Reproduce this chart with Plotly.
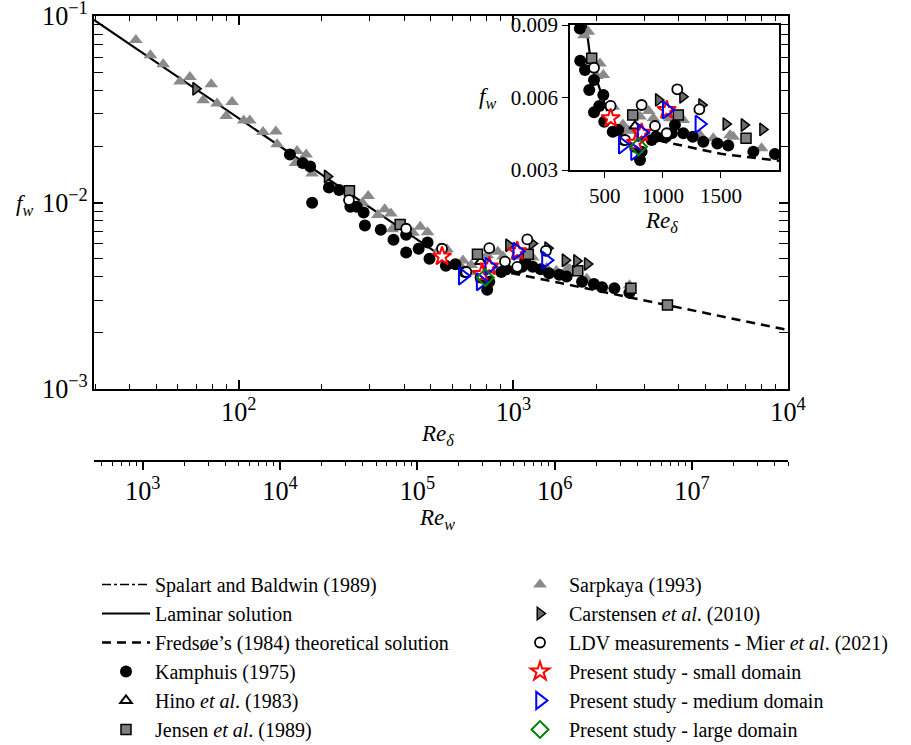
import plotly.graph_objects as go
import math

# ---------------- data ----------------
spalart_re = [600, 700, 800]
spalart_f = [0.0046, 0.0043, 0.0041]

laminar_re = [29.7, 100, 200, 380, 520]
laminar_f = [0.0953, 0.0283, 0.01415, 0.00745, 0.00544]

fredsoe_re = [600, 800, 1000, 1500, 2000, 3000, 5000, 7000, 10000]
fredsoe_f = [0.00487, 0.00446, 0.00418, 0.00367, 0.00338, 0.00299, 0.00256, 0.00231, 0.00207]

kamphuis_re = [153.6, 171, 182, 185, 213, 232, 255, 269, 285, 288, 329, 366, 407, 407, 452, 487,
               495, 568, 615, 665, 760, 817, 803, 903, 941, 1027, 1076, 1104, 1176, 1257, 1348,
               1469, 1563, 1779, 1965, 2103, 2333, 2645]
kamphuis_f = [0.0181, 0.0163, 0.0156, 0.00998, 0.01205, 0.01166, 0.0095, 0.0095, 0.00885, 0.00752,
              0.00714, 0.00631, 0.00672, 0.00539, 0.00565, 0.0061, 0.0050, 0.00458, 0.00466, 0.00424,
              0.00396, 0.00376, 0.00341, 0.00424, 0.00438, 0.00438, 0.00452, 0.00486, 0.00452,
              0.00438, 0.00417, 0.0041, 0.00401, 0.00376, 0.00366, 0.00351, 0.00347, 0.00328]

hino_re = [760]
hino_f = [0.00482]

jensen_re = [253, 387, 740, 1133, 1716, 2680, 3640]
jensen_f = [0.01156, 0.00762, 0.00528, 0.00528, 0.00431, 0.00347, 0.00282]

sarpkaya_re = [42.2, 47.7, 53.1, 61.1, 66.4, 74.2, 79.4, 83.4, 90.0, 94.6, 104.3, 109.7, 122.6,
               136.5, 138, 161, 163, 176, 185, 282, 296, 321, 340, 358, 362, 431, 458, 487, 539,
               573, 645, 655, 688, 702, 803, 878, 917, 1061, 1176, 1320, 1434, 1578, 1606, 1850, 2650]
sarpkaya_f = [0.0743, 0.0615, 0.0551, 0.0445, 0.0471, 0.0353, 0.0431, 0.0340, 0.0291, 0.0346,
              0.0275, 0.0275, 0.0239, 0.0240, 0.0205, 0.0163, 0.0189, 0.0181, 0.0143, 0.00998,
              0.01084, 0.00858, 0.0092, 0.00872, 0.00718, 0.00689, 0.00741, 0.00693, 0.00567,
              0.00562, 0.00452, 0.00488, 0.00424, 0.00462, 0.00521, 0.00544, 0.00514, 0.00514,
              0.00507, 0.00445, 0.00431, 0.00444, 0.00438, 0.0039, 0.0036]

carstensen_re = [69.7, 210, 961, 1170, 1334, 1543, 1699, 1859]
carstensen_f = [0.0407, 0.0138, 0.0059, 0.00603, 0.00569, 0.0049, 0.00486, 0.00468]

mier_re = [252, 407, 550, 674, 817, 932, 1033, 1124, 1314]
mier_f = [0.0103, 0.00723, 0.00565, 0.00424, 0.00569, 0.00482, 0.00452, 0.00634, 0.00551]

small_re = [550, 768, 817, 1033]
small_f = [0.00514, 0.00413, 0.00454, 0.00548]

medium_re = [654, 760, 817, 1033, 1314]
medium_f = [0.00403, 0.00376, 0.00454, 0.00548, 0.0049]

large_re = [790]
large_f = [0.00396]

main_xrange = [1.473, 4.0]          # log10 Re_delta
main_yrange = [-3, -1]              # log10 f_w
inset_xrange = [200, 2000]
inset_yrange = [0.003, 0.009]
inset_xticks = [500, 1000, 1500]
inset_yticks = [0.003, 0.006, 0.009]

FONT = "Liberation Serif"
W, H = 911, 745

def px_x(p):
    return p / W

def px_y(p):
    return 1 - p / H

fig = go.Figure()

series = [
    ("Spalart and Baldwin (1989)", spalart_re, spalart_f,
     dict(mode="lines", line=dict(color="black", width=1.5, dash="dashdot")), "legend"),
    ("Laminar solution", laminar_re, laminar_f,
     dict(mode="lines", line=dict(color="black", width=2.2)), "legend"),
    ("Fredsøe’s (1984) theoretical solution", fredsoe_re, fredsoe_f,
     dict(mode="lines", line=dict(color="black", width=2.5, dash="9px,6px")), "legend"),
    ("Sarpkaya (1993)", sarpkaya_re, sarpkaya_f,
     dict(mode="markers", marker=dict(symbol="triangle-up", size=12, color="#8a8a8a",
                                      line=dict(width=0))), "legend2"),
    ("Kamphuis (1975)", kamphuis_re, kamphuis_f,
     dict(mode="markers", marker=dict(symbol="circle", size=12, color="black",
                                      line=dict(width=0))), "legend"),
    ("Hino <i>et al</i>. (1983)", hino_re, hino_f,
     dict(mode="markers", marker=dict(symbol="triangle-up-open", size=10, color="black",
                                      line=dict(width=2, color="black"))), "legend"),
    ("Jensen <i>et al</i>. (1989)", jensen_re, jensen_f,
     dict(mode="markers", marker=dict(symbol="square", size=10, color="#808080",
                                      line=dict(width=1.5, color="black"))), "legend"),
    ("Carstensen <i>et al</i>. (2010)", carstensen_re, carstensen_f,
     dict(mode="markers", marker=dict(symbol="triangle-right", size=11, color="#6a6a6a",
                                      line=dict(width=1.5, color="black"))), "legend2"),
    ("LDV measurements - Mier <i>et al</i>. (2021)", mier_re, mier_f,
     dict(mode="markers", marker=dict(symbol="circle", size=10, color="white",
                                      line=dict(width=1.8, color="black"))), "legend2"),
    ("Present study - small domain", small_re, small_f,
     dict(mode="markers", marker=dict(symbol="star", size=14, color="white",
                                      line=dict(width=2, color="red"))), "legend2"),
    ("Present study - medium domain", medium_re, medium_f,
     dict(mode="markers", marker=dict(symbol="triangle-right-open", size=15, color="blue",
                                      line=dict(width=2, color="blue"))), "legend2"),
    ("Present study - large domain", large_re, large_f,
     dict(mode="markers", marker=dict(symbol="diamond-open", size=13, color="green",
                                      line=dict(width=2, color="green"))), "legend2"),
]

for i, (name, xs, ys, kw, leg) in enumerate(series):
    fig.add_trace(go.Scatter(x=xs, y=ys, name=name, legend=leg, legendgroup=f"g{i}",
                             hoverinfo="skip", xaxis="x", yaxis="y", **kw))
for i, (name, xs, ys, kw, leg) in enumerate(series):
    fig.add_trace(go.Scatter(x=xs, y=ys, name=name, showlegend=False, legendgroup=f"g{i}",
                             hoverinfo="skip", xaxis="x3", yaxis="y3", **kw))

# carrier for the Re_w axis
fig.add_trace(go.Scatter(x=[], y=[], xaxis="x2", yaxis="y", showlegend=False, hoverinfo="skip"))

tickfont = dict(family=FONT, size=21, color="black")
main_dom_x = [px_x(94), px_x(788)]
main_dom_y = [px_y(389), px_y(16)]

common_log = dict(type="log", dtick=1, exponentformat="power", showgrid=False, zeroline=False,
                  showline=True, linecolor="black", linewidth=2, ticks="inside", ticklen=9,
                  tickwidth=1.5, tickcolor="black", mirror="allticks", tickfont=tickfont,
                  automargin=False, ticklabeloverflow="allow",
                  minor=dict(ticks="inside", ticklen=5, tickwidth=1.2, tickcolor="black",
                             showgrid=False))

rew_range = [2 * main_xrange[0] - math.log10(2), 2 * main_xrange[1] - math.log10(2)]

legend_common = dict(xanchor="left", yanchor="top", bgcolor="rgba(0,0,0,0)",
                     font=dict(family=FONT, size=20, color="black"), itemwidth=48,
                     tracegroupgap=0, traceorder="normal", itemsizing="trace")

fig.update_layout(
    width=W, height=H, autosize=False,
    margin=dict(l=0, r=0, t=0, b=0, autoexpand=False),
    paper_bgcolor="white", plot_bgcolor="white",
    font=dict(family=FONT, size=21, color="black"),
    xaxis=dict(domain=main_dom_x, range=main_xrange, anchor="y", **common_log),
    yaxis=dict(domain=main_dom_y, range=main_yrange, anchor="x", **common_log),
    xaxis2=dict(type="log", range=rew_range, dtick=1, exponentformat="power", overlaying="x",
                anchor="free", position=px_y(461), side="bottom", domain=main_dom_x,
                showgrid=False, zeroline=False, showline=True, linecolor="black", linewidth=2,
                ticks="outside", ticklen=8, tickwidth=1.5, tickcolor="black", tickfont=tickfont,
                automargin=False, ticklabeloverflow="allow",
                minor=dict(ticks="outside", ticklen=4, tickwidth=1.2, tickcolor="black",
                           showgrid=False)),
    xaxis3=dict(domain=[px_x(570), px_x(779)], range=inset_xrange, anchor="y3",
                tickvals=inset_xticks, showgrid=False, zeroline=False, showline=True,
                linecolor="black", linewidth=1.5, mirror=True, ticks="outside", ticklen=6,
                tickwidth=1.3, tickcolor="black", tickfont=tickfont, automargin=False,
                ticklabeloverflow="allow"),
    yaxis3=dict(domain=[px_y(170), px_y(25)], range=inset_yrange, anchor="x3",
                tickvals=inset_yticks, tickformat=".3f", showgrid=False, zeroline=False,
                showline=True, linecolor="black", linewidth=1.5, mirror=True, ticks="outside",
                ticklen=6, tickwidth=1.3, tickcolor="black", tickfont=tickfont, automargin=False,
                ticklabeloverflow="allow"),
    legend=dict(x=px_x(97), y=px_y(565), **legend_common),
    legend2=dict(x=px_x(511), y=px_y(565), **legend_common),
)

# white background for inset
fig.add_shape(type="rect", xref="paper", yref="paper", x0=px_x(570), x1=px_x(779),
              y0=px_y(170), y1=px_y(25), fillcolor="white", line=dict(width=0), layer="below")

ann_font = dict(family=FONT, size=23, color="black")
labels = [
    ("<i>f</i><sub><i>w</i></sub>", 24, 205),
    ("<i>Re</i><sub><i>δ</i></sub>", 437, 435),
    ("<i>Re</i><sub><i>w</i></sub>", 437, 519),
    ("<i>f</i><sub><i>w</i></sub>", 488, 98),
    ("<i>Re</i><sub><i>δ</i></sub>", 661, 222),
]
for txt, x, y in labels:
    fig.add_annotation(text=txt, x=px_x(x), y=px_y(y), xref="paper", yref="paper",
                       showarrow=False, font=ann_font, xanchor="center", yanchor="middle")

fig.write_html("out.html")
